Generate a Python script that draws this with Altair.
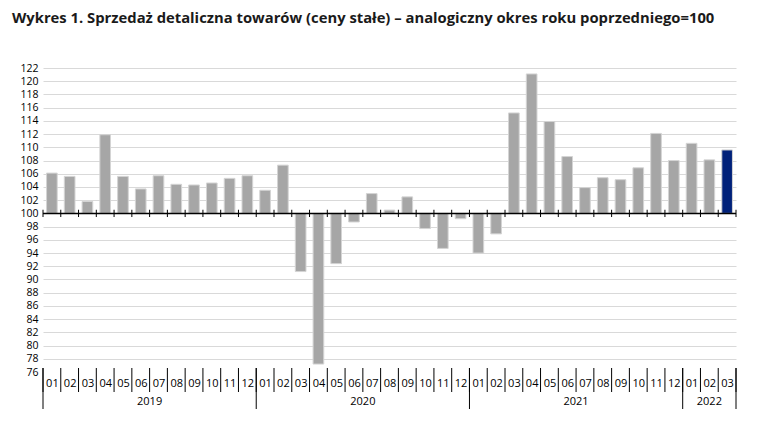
import altair as alt
import pandas as pd

months = ["01", "02", "03", "04", "05", "06", "07", "08", "09", "10", "11", "12",
          "01", "02", "03", "04", "05", "06", "07", "08", "09", "10", "11", "12",
          "01", "02", "03", "04", "05", "06", "07", "08", "09", "10", "11", "12",
          "01", "02", "03"]
values = [106.1, 105.6, 101.8, 111.9, 105.6, 103.7, 105.7, 104.4, 104.3, 104.6, 105.3, 105.7,
          103.5, 107.3, 91.2, 77.2, 92.4, 98.7, 103.0, 100.5, 102.5, 97.7, 94.7, 99.2,
          94.0, 96.9, 115.2, 121.1, 113.9, 108.6, 103.9, 105.4, 105.1, 106.9, 112.1, 108.0,
          110.6, 108.1, 109.6]
years = ["2019", "2020", "2021", "2022"]
year_start = [0, 12, 24, 36]
year_end = [12, 24, 36, 39]

W, H = 693, 304
N = len(values)
FONT = "Open Sans"

df = pd.DataFrame({
    "idx": list(range(N)),
    "month": months,
    "value": values,
    "kind": ["base"] * (N - 1) + ["last"],
})
bounds = pd.DataFrame({"b": list(range(N + 1))})
year_df = pd.DataFrame({"year": years, "start": year_start, "end": year_end})
year_bounds = pd.DataFrame({"b": year_start + [year_end[-1]]})
base_df = pd.DataFrame({"x0": [0], "x1": [N], "y": [100]})

xscale = alt.Scale(domain=[0, N], nice=False, zero=False)
yscale = alt.Scale(domain=[76, 122], nice=False, zero=False)

label_array = "[" + ",".join("'" + m + "'" for m in months) + "]"

x_axis = alt.Axis(
    values=[i + 0.5 for i in range(N)],
    labelExpr=label_array + "[floor(datum.value)]",
    domain=False, ticks=False, grid=False,
    labelPadding=5, labelFontSize=11, labelFont=FONT, labelColor="#000000",
    title=None, labelFlush=False, labelOverlap=False, labelBound=False,
)
y_axis = alt.Axis(
    values=list(range(76, 123, 2)),
    domain=False, ticks=False, grid=True,
    gridColor="#d9d9d9", gridWidth=1,
    gridOpacity={"condition": {"test": "datum.value == 76", "value": 0}, "value": 1},
    labelPadding=5, labelFontSize=10.5, labelFont=FONT, labelColor="#000000",
    labelOverlap=False, labelFlush=False, labelBound=False,
    title=None,
)

bars = alt.Chart(df).transform_calculate(
    x0="datum.idx + 0.2", x1="datum.idx + 0.8"
).mark_bar(stroke="#d4d4d4", strokeWidth=1).encode(
    x=alt.X("x0:Q", scale=xscale, axis=x_axis),
    x2="x1:Q",
    y=alt.Y("value:Q", scale=yscale, axis=y_axis),
    y2=alt.datum(100),
    color=alt.Color("kind:N", scale=alt.Scale(domain=["base", "last"],
                                              range=["#a6a6a6", "#00217a"]), legend=None),
)

baseline = alt.Chart(base_df).mark_rule(color="#000000", strokeWidth=1.5).encode(
    x=alt.X("x0:Q", scale=xscale, axis=x_axis), x2="x1:Q",
    y=alt.Y("y:Q", scale=yscale, axis=y_axis)
)

ticks = alt.Chart(bounds).mark_rule(color="#000000", strokeWidth=1).encode(
    x=alt.X("b:Q", scale=xscale, axis=x_axis),
    y=alt.Y(datum=99.45, scale=yscale, axis=y_axis), y2=alt.datum(100.55)
)

month_sep = alt.Chart(bounds).mark_rule(color="#000000", strokeWidth=1).encode(
    x=alt.X("b:Q", scale=xscale, axis=x_axis), y=alt.value(H - 4), y2=alt.value(H + 20)
)

year_sep = alt.Chart(year_bounds).mark_rule(color="#000000", strokeWidth=1).encode(
    x=alt.X("b:Q", scale=xscale, axis=x_axis), y=alt.value(H - 4), y2=alt.value(H + 37)
)

year_text = alt.Chart(year_df).transform_calculate(
    mid="(datum.start + datum.end) / 2"
).mark_text(fontSize=11, font=FONT, color="#000000", baseline="middle").encode(
    x=alt.X("mid:Q", scale=xscale, axis=x_axis), y=alt.value(H + 30), text="year:N"
)

chart = alt.layer(bars, baseline, ticks, month_sep, year_sep, year_text).properties(
    width=W, height=H,
    autosize=alt.AutoSizeParams(type="none"),
    padding={"left": 35, "top": 60, "right": 16, "bottom": 45},
    title=alt.TitleParams(
        "Wykres 1. Sprzedaż detaliczna towarów (ceny stałe) – analogiczny okres roku poprzedniego=100",
        anchor="start", frame="group", fontSize=14.8, font=FONT, fontWeight="bold",
        color="#1a1a1a", dx=-31, offset=37,
    ),
).configure_view(stroke=None)

chart.save("out.html", embed_options={"renderer": "svg", "actions": False})
